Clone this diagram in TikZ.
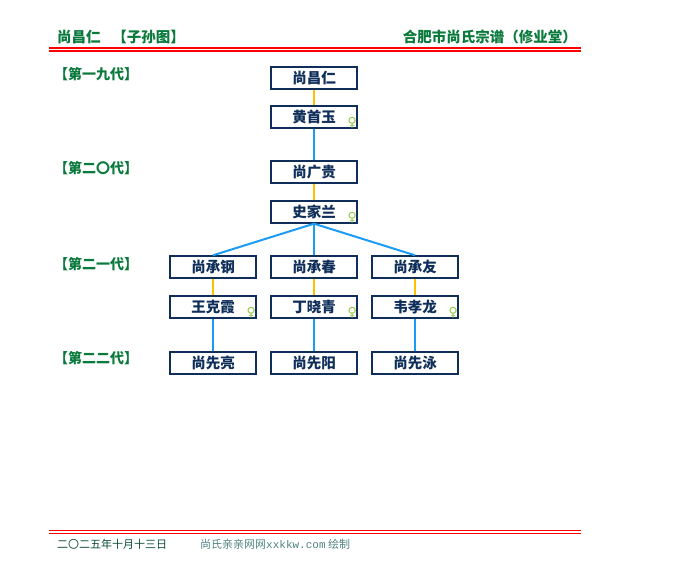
\documentclass[tikz,border=0pt]{standalone}
\usepackage{fontspec}
\setmainfont{Noto Sans CJK SC}
\newfontfamily\monofnt{Liberation Mono}
\newfontfamily\symfnt{DejaVu Sans}
\definecolor{navy}{HTML}{0F2F5A}
\definecolor{hgreen}{HTML}{0A7A3C}
\definecolor{gold}{HTML}{FFC000}
\definecolor{lblue}{HTML}{1A9BF5}
\definecolor{fgreen}{HTML}{92C83E}
\definecolor{ftdark}{HTML}{0B4A38}
\definecolor{ftgrey}{HTML}{4F8080}
\tikzset{
  person/.style={draw=navy, line width=1.4pt, fill=white, minimum width=86pt, minimum height=22pt,
    inner sep=0pt, text=navy, font=\fontsize{14.5}{14.5}\selectfont\bfseries},
  genlabel/.style={anchor=west, inner sep=0pt, text=hgreen, font=\fontsize{14}{14}\selectfont\bfseries},
  marry/.style={draw=gold, line width=2pt},
  descent/.style={draw=lblue, line width=2pt},
  redline/.style={draw=red, line width=1.1pt},
  femsym/.style={inner sep=0pt, text=fgreen, font=\symfnt\fontsize{12.5}{12.5}\selectfont}
}
\begin{document}
\begin{tikzpicture}[x=1pt,y=-1pt]
\useasboundingbox (0,0) rectangle (680,580);
% header
\node[anchor=west, inner sep=0pt, text=hgreen, font=\fontsize{14.5}{14.5}\selectfont\bfseries] (htitle) at (57,37) {尚昌仁\hspace{0.8em}【子孙图】};
\node[anchor=east, inner sep=0pt, text=hgreen, font=\fontsize{14.5}{14.5}\selectfont\bfseries] (hright) at (577,37) {合肥市尚氏宗谱（修业堂）};
\coordinate (hl1a) at (49,48); \coordinate (hl1b) at (581,48);
\coordinate (hl2a) at (49,51); \coordinate (hl2b) at (581,51);
\draw[redline] (hl1a) -- (hl1b);
\draw[redline] (hl2a) -- (hl2b);
% footer
\coordinate (fl1a) at (49,530.5); \coordinate (fl1b) at (581,530.5);
\coordinate (fl2a) at (49,533.5); \coordinate (fl2b) at (581,533.5);
\draw[redline] (fl1a) -- (fl1b);
\draw[redline] (fl2a) -- (fl2b);
\node[anchor=west, inner sep=0pt, text=ftdark, font=\fontsize{11}{11}\selectfont] (fdate) at (57,544) {二〇二五年十月十三日};
\node[anchor=west, inner sep=0pt, text=ftgrey, font=\fontsize{11}{11}\selectfont] (fsite) at (200,544) {尚氏亲亲网网{\monofnt xxkkw.com} 绘制};
% generation labels
\node[genlabel] (g19) at (54,74) {【第一九代】};
\node[genlabel] (g20) at (54,168) {【第二〇代】};
\node[genlabel] (g21) at (54,264) {【第二一代】};
\node[genlabel] (g22) at (54,358) {【第二二代】};
% people
\node[person] (p1) at (314,78) {尚昌仁};
\node[person] (s1) at (314,117) {黄首玉};
\node[person] (p2) at (314,172) {尚广贵};
\node[person] (s2) at (314,212) {史家兰};
\node[person] (p3a) at (213,267) {尚承钢};
\node[person] (p3b) at (314,267) {尚承春};
\node[person] (p3c) at (415,267) {尚承友};
\node[person] (s3a) at (213,307) {王克霞};
\node[person] (s3b) at (314,307) {丁晓青};
\node[person] (s3c) at (415,307) {韦孝龙};
\node[person] (p4a) at (213,363) {尚先亮};
\node[person] (p4b) at (314,363) {尚先阳};
\node[person] (p4c) at (415,363) {尚先泳};
% female marks
\foreach \s in {s1,s2,s3a,s3b,s3c}{
  \node[femsym] (\s f) at ([xshift=-5.5pt,yshift=6pt]\s.south east) {♀};
}
% connectors
\draw[marry] (p1.south) -- (s1.north);
\draw[descent] (s1.south) -- (p2.north);
\draw[marry] (p2.south) -- (s2.north);
\draw[descent] (s2.south) -- (p3a.north);
\draw[descent] (s2.south) -- (p3b.north);
\draw[descent] (s2.south) -- (p3c.north);
\draw[marry] (p3a.south) -- (s3a.north);
\draw[marry] (p3b.south) -- (s3b.north);
\draw[marry] (p3c.south) -- (s3c.north);
\draw[descent] (s3a.south) -- (p4a.north);
\draw[descent] (s3b.south) -- (p4b.north);
\draw[descent] (s3c.south) -- (p4c.north);
\end{tikzpicture}
\end{document}
